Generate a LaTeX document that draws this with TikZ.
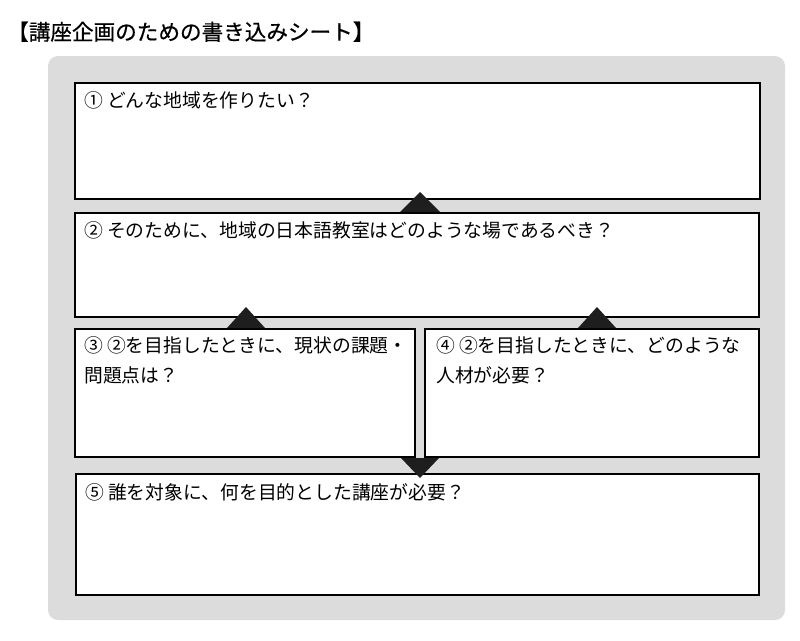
\documentclass[tikz,border=0pt]{standalone}
\usepackage{fontspec}
\usepackage{xcolor}
\usepackage{tikz}
\newfontfamily\jpfont{Noto Sans CJK JP}
\newfontfamily\jptitle[FakeBold=0.6]{Noto Sans CJK JP}
\definecolor{panelgray}{HTML}{DCDCDC}
\definecolor{tipdark}{HTML}{1E1E1E}
\tikzset{
  sheetbox/.style={draw=black, line width=1.5pt, fill=white, anchor=north west, inner sep=0pt},
  qtext/.style={anchor=base west, inner sep=0pt, font=\jpfont\fontsize{18.8}{30}\selectfont, align=left},
  tip/.style={fill=tipdark}
}
\begin{document}
\begin{tikzpicture}[x=1pt, y=-1pt]
      \useasboundingbox (0,0) rectangle (800,640);
      \node[anchor=base west, inner sep=0pt, font=\jptitle\fontsize{21.6}{21.6}\selectfont] (title) at (7,40){【講座企画のための書き込みシート】};
      \fill[panelgray, rounded corners=10pt] (48,56) rectangle (785,620);

      \node[sheetbox, minimum width=685, minimum height=116] (q1) at (74,82){};
      \node[sheetbox, minimum width=684, minimum height=104] (q2) at (74,212){};
      \node[sheetbox, minimum width=340, minimum height=128] (q3) at (74,328){};
      \node[sheetbox, minimum width=334, minimum height=128] (q4) at (424,328){};
      \node[sheetbox, minimum width=683, minimum height=121] (q5) at (75,473){};

      % two-line texts: base is the last line
      \node[qtext] (t1) at ([shift={(10,25)}]q1.north west){① どんな地域を作りたい？};
      \node[qtext] (t2) at ([shift={(10,25)}]q2.north west){② そのために、地域の日本語教室はどのような場であるべき？};
      \node[qtext] (t3) at ([shift={(10,54)}]q3.north west){③ ②を目指したときに、現状の課題・\\問題点は？};
      \node[qtext] (t4) at ([shift={(12,54)}]q4.north west){④ ②を目指したときに、どのような\\人材が必要？};
      \node[qtext] (t5) at ([shift={(10,26)}]q5.north west){⑤ 誰を対象に、何を目的とした講座が必要？};

      \fill[tip] (400,212) -- (420,192) -- (440,212) -- cycle;
      \fill[tip] (227,328) -- (246,307) -- (265,328) -- cycle;
      \fill[tip] (578,328) -- (597,307) -- (616,328) -- cycle;
      \fill[tip] (401,458) -- (420,478) -- (439,458) -- cycle;
    \end{tikzpicture}
\end{document}
